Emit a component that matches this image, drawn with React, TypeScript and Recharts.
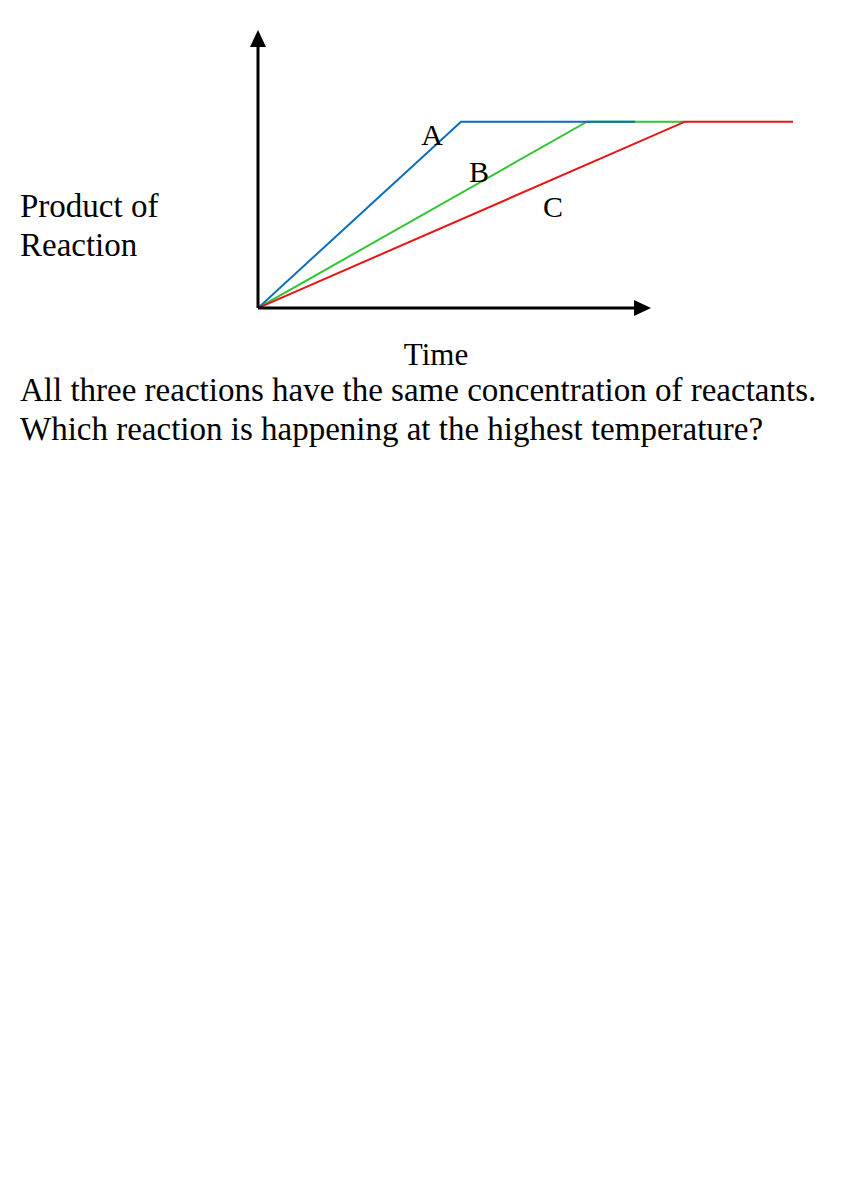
import { LineChart, Line, XAxis, YAxis, ReferenceLine, ReferenceDot } from "recharts";

// time / product values (1 unit ≈ 10px)
const reactionA = [
  { t: 0, p: 0 },
  { t: 20.3, p: 18.7 },
  { t: 37.7, p: 18.7 },
];
const reactionB = [
  { t: 0, p: 0 },
  { t: 32.9, p: 18.7 },
  { t: 42.7, p: 18.7 },
];
const reactionC = [
  { t: 0, p: 0 },
  { t: 42.7, p: 18.7 },
  { t: 53.5, p: 18.7 },
];

const labels = [
  { name: "A", t: 17.4, p: 17.4 },
  { name: "B", t: 22.1, p: 13.7 },
  { name: "C", t: 29.5, p: 10.2 },
];

const xAxisEnd = 39.3;
const yAxisEnd = 27.9;

const serif = "'Liberation Serif', 'Times New Roman', serif";

function ArrowLine(props: any) {
  const { x1, y1, x2, y2 } = props;
  const dx = x2 - x1;
  const dy = y2 - y1;
  const len = Math.sqrt(dx * dx + dy * dy) || 1;
  const ux = dx / len;
  const uy = dy / len;
  const head = 17;
  const half = 8;
  const bx = x2 - ux * head;
  const by = y2 - uy * head;
  const pts = `${x2},${y2} ${bx - uy * half},${by + ux * half} ${bx + uy * half},${by - ux * half}`;
  return (
    <g>
      <line x1={x1} y1={y1} x2={bx} y2={by} stroke="#000" strokeWidth={3} />
      <polygon points={pts} fill="#000" />
    </g>
  );
}

function LetterLabel(props: any) {
  const { cx, cy, name } = props;
  return (
    <text x={cx} y={cy} textAnchor="middle" dominantBaseline="central" fontFamily={serif} fontSize={30} fill="#000">
      {name}
    </text>
  );
}

export default function App() {
  return (
    <div style={{ position: "relative", width: 850, height: 460, fontFamily: serif }}>
      <LineChart
        width={850}
        height={320}
        margin={{ top: 22, right: 60, left: 250, bottom: 20 }}
        style={{ position: "absolute", left: 0, top: 0 }}
      >
        <XAxis type="number" dataKey="t" domain={[0, 54]} hide allowDataOverflow />
        <YAxis type="number" dataKey="p" domain={[0, yAxisEnd]} hide allowDataOverflow />
        <Line data={reactionB} dataKey="p" type="linear" stroke="#33c533" strokeWidth={2} dot={false} isAnimationActive={false} />
        <Line data={reactionA} dataKey="p" type="linear" stroke="#0a6ebd" strokeWidth={2} dot={false} isAnimationActive={false} />
        <Line data={reactionC} dataKey="p" type="linear" stroke="#e81414" strokeWidth={2} dot={false} isAnimationActive={false} />
        <ReferenceLine
          segment={[{ x: 0, y: 0 }, { x: xAxisEnd, y: 0 }]}
          ifOverflow="visible"
          shape={ArrowLine}
        />
        <ReferenceLine
          segment={[{ x: 0, y: 0 }, { x: 0, y: yAxisEnd }]}
          ifOverflow="visible"
          shape={ArrowLine}
        />
        {labels.map((l) => (
          <ReferenceDot
            key={l.name}
            x={l.t}
            y={l.p}
            r={0}
            ifOverflow="visible"
            shape={(p: any) => <LetterLabel {...p} name={l.name} />}
          />
        ))}
      </LineChart>
      <div style={{ position: "absolute", left: 12, top: 179, fontSize: 33, lineHeight: "39px", color: "#000", whiteSpace: "nowrap" }}>
        Product of
        <br />
        Reaction
      </div>
      <div style={{ position: "absolute", left: 368, top: 329, width: 120, textAlign: "center", fontSize: 31, lineHeight: "36px", color: "#000" }}>
        Time
      </div>
      <div style={{ position: "absolute", left: 12, top: 363, fontSize: 33, lineHeight: "39px", color: "#000", whiteSpace: "nowrap" }}>
        All three reactions have the same concentration of reactants.
        <br />
        Which reaction is happening at the highest temperature?
      </div>
    </div>
  );
}
